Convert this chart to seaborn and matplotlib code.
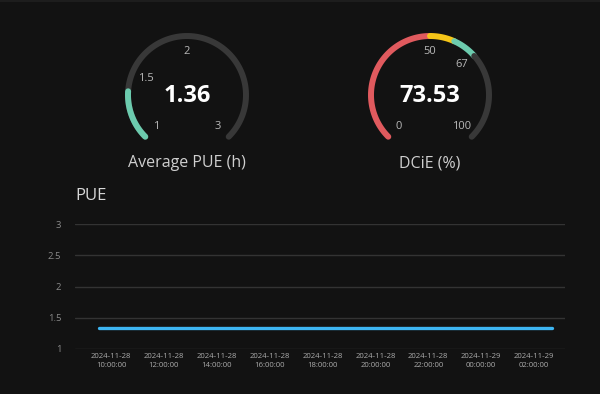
import numpy as np
import pandas as pd
import matplotlib
matplotlib.use("Agg")
import matplotlib.pyplot as plt
import matplotlib.dates as mdates
import seaborn as sns

# gauge data
pue_avg = 1.36
pue_range = [1, 3]
pue_ticks = [1, 1.5, 2, 3]
dcie_value = 73.53
dcie_range = [0, 100]
dcie_ticks = [0, 50, 67, 100]
dcie_bands = [0, 50, 59, 68, 100]
dcie_band_colors = ["#E05A5E", "#F5C518", "#6CCBAE", "#383838"]

# line chart data
times = ["2024-11-28 09:33", "2024-11-28 10:30", "2024-11-28 11:30", "2024-11-28 12:30",
         "2024-11-28 13:30", "2024-11-28 14:30", "2024-11-28 15:30", "2024-11-28 16:30",
         "2024-11-28 17:30", "2024-11-28 18:30", "2024-11-28 19:30", "2024-11-28 20:30",
         "2024-11-28 21:30", "2024-11-28 22:30", "2024-11-28 23:30", "2024-11-29 00:30",
         "2024-11-29 01:30", "2024-11-29 02:41"]
pue = [1.34] * len(times)
y_ticks = [1, 1.5, 2, 2.5, 3]

BG = "#121212"
sns.set_theme(style="dark")
plt.rcParams["font.family"] = ["Open Sans", "DejaVu Sans"]

fig = plt.figure(figsize=(6, 3.94), dpi=100, facecolor=BG)

# overlay in pixel coords for gauges
g = fig.add_axes([0, 0, 1, 1])
g.set_xlim(0, 600)
g.set_ylim(394, 0)
g.axis("off")
g.patch.set_alpha(0)
g.plot([0, 600], [0.5, 0.5], color="#202020", lw=1.2)

R = 59
LW = 4.3


def ang(v, lo, hi):
    return np.deg2rad(225 - (v - lo) / (hi - lo) * 270)


def arc(cx, cy, a, b, lo, hi, color):
    t = np.linspace(ang(a, lo, hi), ang(b, lo, hi), 100)
    g.plot(cx + R * np.cos(t), cy - R * np.sin(t), color=color, lw=LW,
           solid_capstyle="round")


def gauge(cx, cy, lo, hi, ticks, value, title):
    for tk in ticks:
        t = ang(tk, lo, hi)
        rr = 44
        g.text(cx + rr * np.cos(t), cy - rr * np.sin(t), f"{tk:g}", color="#b8b8b8",
               fontsize=8, ha="center", va="center")
    g.text(cx, cy + 1, value, color="white", fontsize=17, fontweight="bold",
           ha="center", va="center")
    g.text(cx, cy + 68, title, color="#cfcfcf", fontsize=11.5, ha="center", va="center")


# PUE gauge
arc(187, 95, pue_range[0], pue_range[1], *pue_range, "#383838")
arc(187, 95, pue_range[0], pue_avg, *pue_range, "#6CCBAE")
gauge(187, 95, *pue_range, pue_ticks, f"{pue_avg:.2f}", "Average PUE (h)")

# DCiE gauge
for a, b, c in zip(dcie_bands[:-1], dcie_bands[1:], dcie_band_colors):
    arc(430, 95, a, b, *dcie_range, c)
gauge(430, 95, *dcie_range, dcie_ticks, f"{dcie_value:.2f}", "DCiE (%)")

# line chart
ax = fig.add_axes([75 / 600, (394 - 349) / 394, 490 / 600, 125 / 394])
ax.set_facecolor(BG)
df = pd.DataFrame({"time": pd.to_datetime(times), "PUE": pue})
sns.lineplot(data=df, x="time", y="PUE", ax=ax, color="#3DB5F2", lw=2.4)
ax.set_ylim(1, 3)
ax.set_yticks(y_ticks)
ax.set_yticklabels([f"{v:g}" for v in y_ticks])
ax.set_xlim(pd.Timestamp("2024-11-28 08:38:20"), pd.Timestamp("2024-11-29 03:10:20"))
ax.set_xticks(pd.date_range("2024-11-28 10:00", "2024-11-29 02:00", freq="2h"))
ax.xaxis.set_major_formatter(mdates.DateFormatter("%Y-%m-%d\n%H:%M:%S"))
ax.grid(axis="y", color="#333333", lw=1)
ax.grid(axis="x", visible=False)
for s in ax.spines.values():
    s.set_visible(False)
ax.tick_params(axis="y", colors="#8a8a8a", labelsize=6.8, length=0, pad=10)
ax.tick_params(axis="x", colors="#aaaaaa", labelsize=5.6, length=0, pad=3)
for lab in ax.get_xticklabels():
    lab.set_linespacing(1.45)
ax.set_xlabel("")
ax.set_ylabel("")
fig.text(75 / 600, 1 - 196 / 394, "PUE", color="#d8d8d8", fontsize=12, va="center")

fig.savefig("out.png", dpi=100, facecolor=BG)
